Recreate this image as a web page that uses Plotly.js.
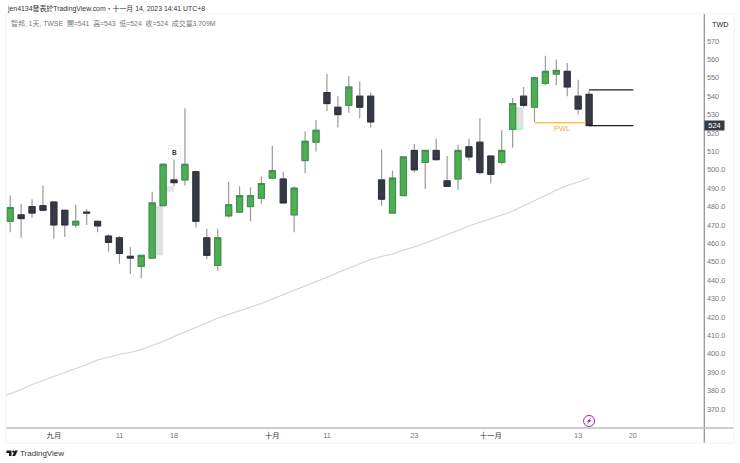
<!DOCTYPE html>
<html><head><meta charset="utf-8">
<script src="https://cdn.plot.ly/plotly-3.0.1.min.js"></script>
<style>html,body{margin:0;padding:0;background:#fff;overflow:hidden}#c{width:740px;height:463px}</style>
</head><body><div id="c"></div>
<script>
const session = [...Array(54).keys()];
const open  = [472,475.5,480,480.5,482.5,478,470,477,472,464,463,453,447.5,452,480.5,494.5,494.5,499,463,448,475,477,480,484.5,495.5,495,475.5,505,515,542,534,535,540,540,494.5,476.5,486,510.5,504,510.5,494,495,512.5,515,507.5,504,522,540,534,547,552,553.5,540,541];
const high  = [486,481.5,484,491.5,483,478,481,478.5,472.5,465,464,458,453.5,488,503.5,505.5,533.5,499.5,468,468,493.5,491,490.5,496.5,513,499,491,521,527,552,540,551,548,542,511,499.5,507,514,510.5,517,507.5,513.5,517,528,507.5,521.5,539,545,550,562,560,558,549,543];
const low   = [466,463,474,478,462.5,463.5,468.5,470,466,455.5,449,443.5,441,452,480.5,491,491.5,468.5,451.5,445,474,477,472,481.5,495.5,482,466,498,510,532,523,531,528,523,480.5,476.5,486,498.5,489.5,505,491,489,505,497.5,492.5,503,512,534,526,546,546,540,530,524];
const close = [479.5,473.5,476.5,478,470,470,472,476.5,469.5,460.5,454.5,452,453.5,482,503,493,503,472,453.5,463,481,486,486,492.5,499.5,482,490,515.5,521.5,536,530,545,534,526,484,495.5,507,500,510.5,505.5,491,510.5,507,498.5,497.5,510.5,536,535,550,553.5,554,545,533,524];
const maSession = [-0.38,0,1,2,3,4,5,6,7,8,9,10,11,12,13,14,15,16,17,18,19,20,21,22,23,24,25,26,27,28,29,30,31,32,33,34,35,36,37,38,39,40,41,42,43,44,45,46,47,48,49,50,51,52,53];
const maValues = [377.5,378.2,380.6,383.3,385.5,387.7,389.6,391.7,394.2,396.6,398.3,399.6,400.7,402.3,404.5,406.7,409.4,411.8,414.3,416.7,419.5,421.4,423.3,425.4,427.3,429.8,432,434.4,436.8,439.3,441.5,444.2,446.6,448.8,451.3,452.9,454.2,456.4,458,460.2,462.4,464.6,467,469.5,471.4,473.3,475.4,477.6,480.3,483,486,489,491.5,493.4,495.4];
const priceTicks = [570,560,550,540,530,520,510,500,490,480,470,460,450,440,430,420,410,400,390,380,370];
const priceLabels = ["570","560","550","540","530","520","510","500.0","490.0","480.0","470.0","460.0","450.0","440.0","430.0","420.0","410.0","400.0","390.0","380.0","370.0"];
const timeTicks = [4,10,15,24,29,37,44,52,57];
const timeLabels = ['<span style="color:#333">九月</span>',"11","18",'<span style="color:#333">十月</span>',"11","23",'<span style="color:#333">十一月</span>',"13","20"];

const L=5.5,R=704,T=14,B=428;
const X=p=>(p-L)/(R-L), Y=p=>(B-p)/(B-T);
const FONT='"Liberation Sans","Noto Sans CJK TC",sans-serif';
const GREEN='#4caf50',GREENL='#3b8f50',DARK='#363a45',DARKL='#2e313b',WICK='#9b9b9b';

const bodyTop=open.map((o,i)=>Math.max(o,close[i]));
const bodyBot=open.map((o,i)=>Math.min(o,close[i]));
const traces=[
 {type:'scatter',mode:'lines',x:maSession,y:maValues,line:{color:'#d2d2d2',width:1.1},hoverinfo:'skip',showlegend:false},
 {type:'candlestick',x:session,open,high,low,close,whiskerwidth:0,showlegend:false,hoverinfo:'skip',
  increasing:{line:{color:WICK,width:1.2},fillcolor:'rgba(0,0,0,0)'},decreasing:{line:{color:WICK,width:1.2},fillcolor:'rgba(0,0,0,0)'}},
 {type:'candlestick',x:session,open,close,high:bodyTop,low:bodyBot,whiskerwidth:0,showlegend:false,hoverinfo:'skip',
  increasing:{line:{color:GREENL,width:1},fillcolor:GREEN},decreasing:{line:{color:DARKL,width:1},fillcolor:DARK}}
];
const zone=(x0,x1,y0,y1,c)=>({type:'rect',xref:'x',yref:'y',x0,x1,y0,y1,fillcolor:c,line:{width:0},layer:'below'});
const seg=(x0,x1,y,c,w)=>({type:'line',xref:'x',yref:'y',x0,x1,y0:y,y1:y,line:{color:c,width:w}});
const chrome=(x0,y0,x1,y1,c,w)=>({type:'line',xref:'paper',yref:'paper',x0:X(x0),x1:X(x1),y0:Y(y0),y1:Y(y1),line:{color:c,width:w}});
const P=pts=>'M'+pts.map(p=>X(p[0])+','+Y(p[1])).join('L')+'Z';
const logo=(pts)=>({type:'path',xref:'paper',yref:'paper',path:P(pts),fillcolor:'#131722',line:{width:0}});
const shapes=[
 zone(13,14,453.5,480.5,'#dfe2df'),
 zone(14,15,488,491,'#e6e8e6'),
 zone(46,47,523.5,534,'#dfe2df'),
 zone(46,47,521.6,523.5,'#bdeed8'),
 zone(48,49,545.5,546.2,'#ececec'),
 seg(48,52.7,525.6,'#f6c65b',1.6),
 seg(53,57.05,543.4,'#1f1f24',1.3),
 seg(53,57.05,524,'#1f1f24',1.3),
 chrome(704.3,14,704.3,443,'#8d8f94',1.2),
 chrome(5.5,428,734,428,'#bdbdbd',1.5),
 chrome(5.5,14,5.5,443,'#f1f1f1',1),
 chrome(734,14,734,443,'#f3f3f3',1),
 chrome(5.5,443,734,443,'#f3f3f3',1),
 chrome(5.5,13.5,734,13.5,'#f6f6f6',1),
 {type:'circle',xref:'x',yref:'y',xsizemode:'pixel',ysizemode:'pixel',xanchor:53,yanchor:363.5,x0:-5.5,x1:5.5,y0:-5.5,y1:5.5,line:{color:'#9c27b0',width:1},fillcolor:'#fff'},
 {type:'path',xref:'x',yref:'y',xsizemode:'pixel',ysizemode:'pixel',xanchor:53,yanchor:363.5,path:'M2.2,3.4L-2.6,-0.6L-0.4,-0.6L-2.2,-3.4L2.6,0.6L0.4,0.6Z',fillcolor:'#9c27b0',line:{width:0}},
 logo([[6,450.5],[11,450.5],[11,456],[8.6,456],[8.6,453],[6,453]]),
 {type:'circle',xref:'paper',yref:'paper',x0:X(11.7),x1:X(14),y0:Y(450.5),y1:Y(452.8),fillcolor:'#131722',line:{width:0}},
 logo([[14.4,450.5],[17.3,450.5],[14.6,456],[11.8,456]])
];
const note=(text,px,py,size,color,extra)=>Object.assign({text,xref:'paper',yref:'paper',x:X(px),y:Y(py),xanchor:'left',yanchor:'middle',showarrow:false,font:{family:FONT,size,color},borderpad:0},extra||{});
const annotations=[
 note('jen4134發表於TradingView.com・十一月 14, 2023 14:41 UTC+8',5,9,6.9,'#333'),
 note('智邦, 1天, TWSE&nbsp;&nbsp;開=541&nbsp;&nbsp;高=543&nbsp;&nbsp;低=524&nbsp;&nbsp;收=524&nbsp;&nbsp;成交量3.709M',10,23.5,6.9,'#777'),
 note('TWD',711.5,24,7.2,'#222'),
 note('TradingView',19,453.5,8,'#333'),
 {text:'524',xref:'paper',yref:'y',x:X(714.5),y:524.2,xanchor:'center',yanchor:'middle',showarrow:false,bgcolor:DARK,font:{family:FONT,size:7.5,color:'#fff'},borderpad:0,width:19,height:8.5},
 {text:'PWL',xref:'x',yref:'y',x:50.55,y:522.2,xanchor:'center',yanchor:'middle',showarrow:false,font:{family:FONT,size:7.5,color:'#e9a95d'}},
 {text:'<b>B</b>',xref:'x',yref:'y',x:15,y:509.2,xanchor:'center',yanchor:'middle',showarrow:false,bgcolor:'#fff',bordercolor:'#f0f0f0',borderwidth:1,borderpad:3,font:{family:FONT,size:6.5,color:'#333'}}
];
Plotly.newPlot('c',traces,{
 width:740,height:463,autosize:false,showlegend:false,paper_bgcolor:'#fff',plot_bgcolor:'#fff',
 margin:{l:L,r:740-R,t:T,b:463-B,pad:0},boxgap:0.2,
 font:{family:FONT},
 xaxis:{type:'linear',range:[-0.384,63.52],tickmode:'array',tickvals:timeTicks,ticktext:timeLabels,showgrid:false,zeroline:false,showline:false,ticks:'',ticklabelstandoff:2,tickfont:{size:7.3,color:'#777',family:FONT},rangeslider:{visible:false},fixedrange:true},
 yaxis:{side:'right',range:[359.67,584.67],tickmode:'array',tickvals:priceTicks,ticktext:priceLabels,showgrid:false,zeroline:false,showline:false,ticks:'',ticklabelstandoff:2,tickfont:{size:7.3,color:'#777',family:FONT},fixedrange:true},
 shapes,annotations
},{staticPlot:true,displayModeBar:false});
</script></body></html>
